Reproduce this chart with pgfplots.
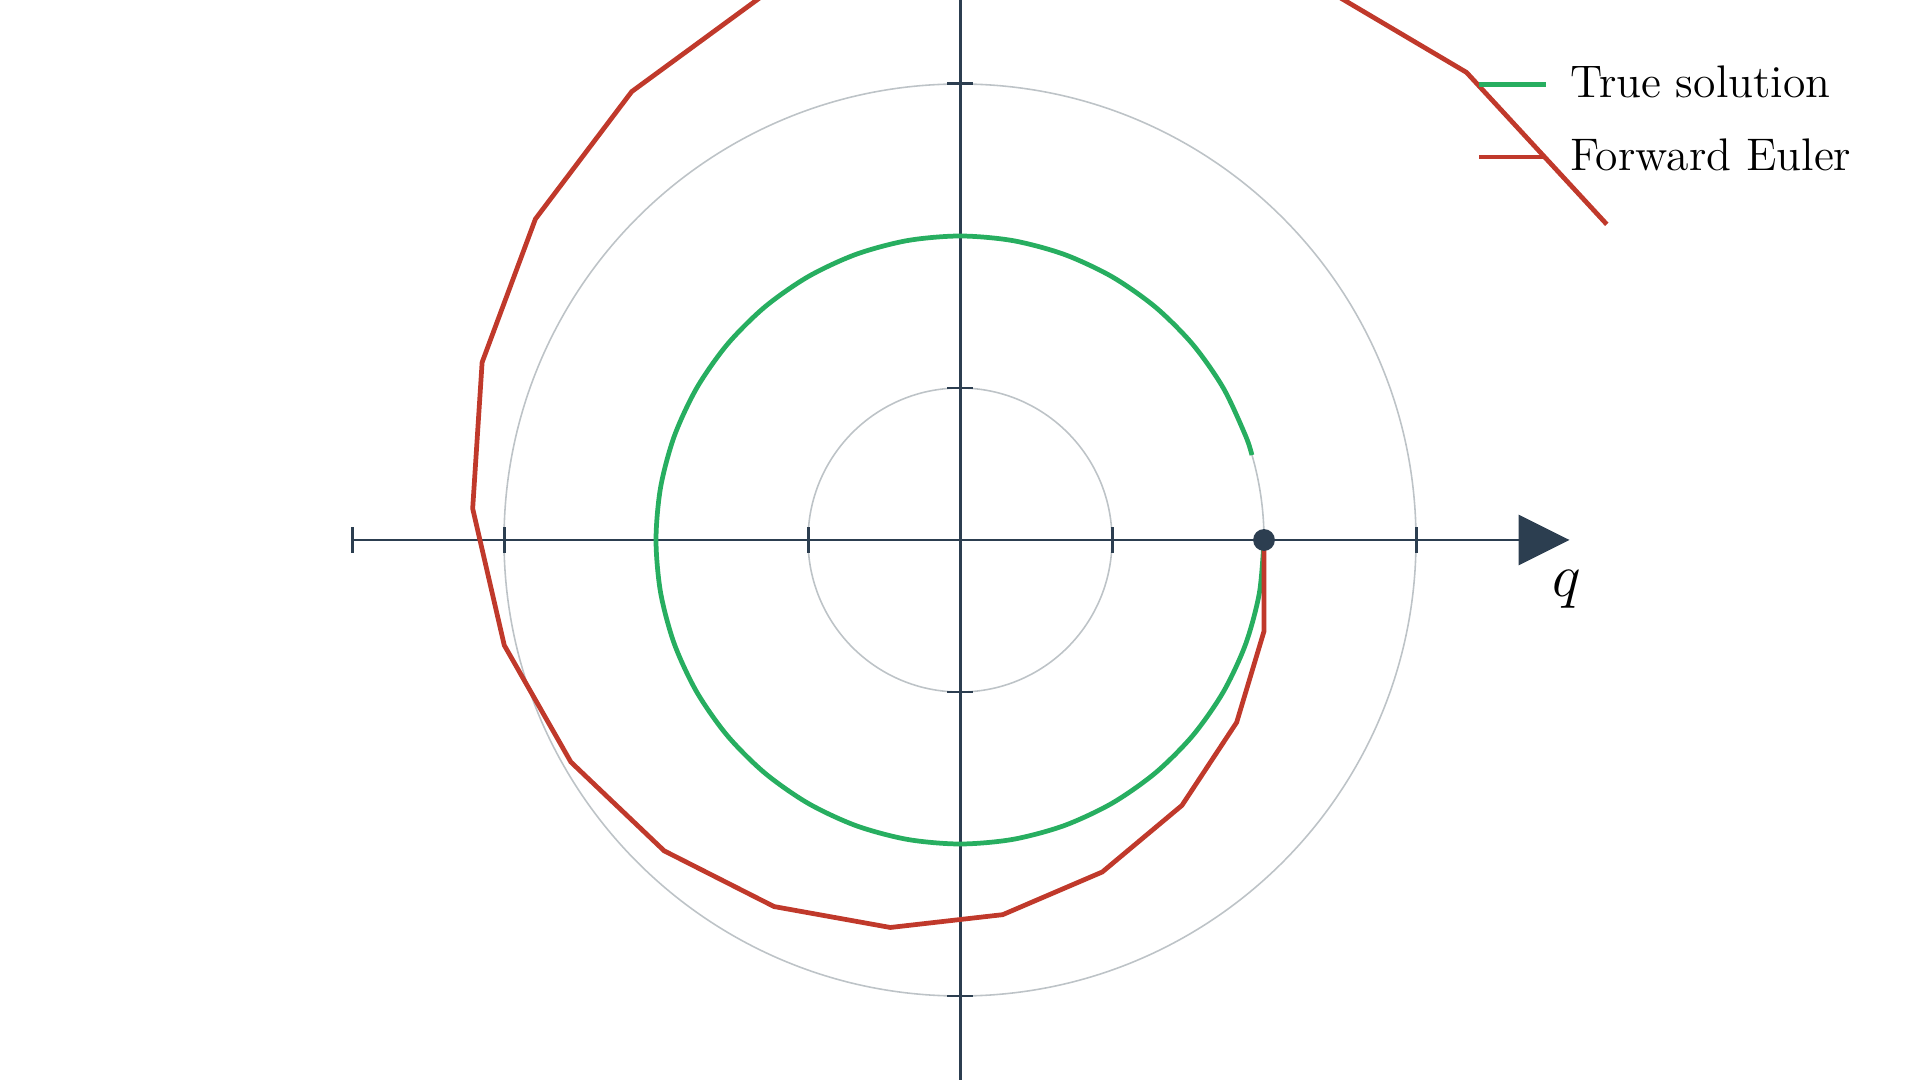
\documentclass[border=0pt]{standalone}
\usepackage{pgfplots}
\pgfplotsset{compat=1.18}
\usetikzlibrary{arrows.meta}
\definecolor{axisblue}{HTML}{2C3E50}
\definecolor{truegreen}{HTML}{27AE60}
\definecolor{eulerred}{HTML}{C0392B}
\definecolor{gridgray}{HTML}{BDC3C7}

\begin{document}
\begin{tikzpicture}
\useasboundingbox (0,0) rectangle (19.2cm,10.8cm);
\begin{axis}[
  at={(0,0)}, anchor=south west,
  scale only axis, width=19.2cm, height=10.8cm,
  xmin=-6.3158, xmax=6.3158, ymin=-3.5526, ymax=3.5526,
  hide axis,
  legend style={draw=none, fill=none, at={(axis cs:3.325,3.217)}, anchor=north west,
    font=\fontsize{13}{15}\selectfont, row sep=6.2pt},
  legend cell align=left,
  legend image code/.code={\draw[#1] (0cm,0cm) -- (0.67cm,0cm); \path (0.82cm,0cm);},
]
% polar grid circles
\draw[gridgray, line width=0.45pt] (axis cs:0,0) circle[radius=1];
\draw[gridgray, line width=0.45pt] (axis cs:0,0) circle[radius=2];
\draw[gridgray, line width=0.45pt] (axis cs:0,0) circle[radius=3];

% axes
\draw[axisblue, line width=0.85pt] (axis cs:0,-3.6) -- (axis cs:0,3.6);
\draw[axisblue, line width=0.85pt, -{Triangle[length=5.1mm, width=5mm]}] (axis cs:-4,0) -- (axis cs:4.01,0);
\draw[axisblue, line width=0.85pt] (axis cs:-4,-0.0855) -- (axis cs:-4,0.0855);
\draw[axisblue, line width=0.85pt] (axis cs:-3,-0.0855) -- (axis cs:-3,0.0855);
\draw[axisblue, line width=0.85pt] (axis cs:-1,-0.0855) -- (axis cs:-1,0.0855);
\draw[axisblue, line width=0.85pt] (axis cs:1,-0.0855) -- (axis cs:1,0.0855);
\draw[axisblue, line width=0.85pt] (axis cs:3,-0.0855) -- (axis cs:3,0.0855);
\draw[axisblue, line width=0.85pt] (axis cs:-0.0855,-3) -- (axis cs:0.0855,-3);
\draw[axisblue, line width=0.85pt] (axis cs:-0.0855,-1) -- (axis cs:0.0855,-1);
\draw[axisblue, line width=0.85pt] (axis cs:-0.0855,1) -- (axis cs:0.0855,1);
\draw[axisblue, line width=0.85pt] (axis cs:-0.0855,3) -- (axis cs:0.0855,3);
\node[anchor=base, font=\fontsize{19}{23}\selectfont] at (axis cs:3.99,-0.37) {$q$};

% true solution, t = 0 ... 6
\addplot[truegreen, line width=1.35pt, smooth] coordinates {
  (2,0) (1.96962,-0.34730) (1.87939,-0.68404) (1.73205,-1) (1.53209,-1.28558)
  (1.28558,-1.53209) (1,-1.73205) (0.68404,-1.87939) (0.34730,-1.96962) (0,-2)
  (-0.34730,-1.96962) (-0.68404,-1.87939) (-1,-1.73205) (-1.28558,-1.53209)
  (-1.53209,-1.28558) (-1.73205,-1) (-1.87939,-0.68404) (-1.96962,-0.34730) (-2,0)
  (-1.96962,0.34730) (-1.87939,0.68404) (-1.73205,1) (-1.53209,1.28558)
  (-1.28558,1.53209) (-1,1.73205) (-0.68404,1.87939) (-0.34730,1.96962) (0,2)
  (0.34730,1.96962) (0.68404,1.87939) (1,1.73205) (1.28558,1.53209)
  (1.53209,1.28558) (1.73205,1) (1.87939,0.68404) (1.92034,0.55886)
};
\addlegendentry{True solution}

% forward Euler, h = 0.3
\addplot[eulerred, line width=1.35pt] coordinates {
  (2,0) (2,-0.6) (1.82,-1.2) (1.46,-1.746) (0.9362,-2.184) (0.281,-2.4649)
  (-0.4585,-2.5492) (-1.2232,-2.4116) (-1.9467,-2.0447) (-2.5601,-1.4607)
  (-2.9983,-0.6926) (-3.2061,0.2069) (-3.1440,1.1687) (-2.7934,2.1119)
  (-2.1598,2.9499) (-1.2749,3.5979) (-0.1955,3.9803) (0.9986,4.0390)
  (2.2103,3.7394) (3.3321,3.0763) (4.2550,2.0767)
};
\addlegendentry{Forward Euler}

\addplot[only marks, mark=*, mark size=2.9pt, axisblue, forget plot] coordinates {(2,0)};
\end{axis}
\end{tikzpicture}
\end{document}
